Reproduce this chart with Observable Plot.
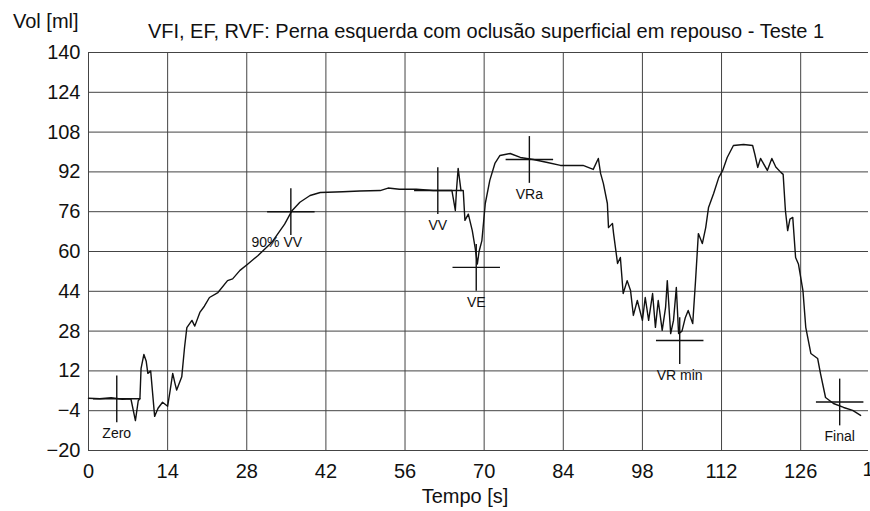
<!DOCTYPE html>
<html>
<head>
<meta charset="utf-8">
<script src="https://cdn.jsdelivr.net/npm/d3@7"></script>
<script src="https://cdn.jsdelivr.net/npm/@observablehq/plot@0.6"></script>
<style>
  html, body { margin: 0; padding: 0; background: #fff; }
  #chart { width: 870px; height: 511px; overflow: hidden; }
</style>
</head>
<body>
<div id="chart"></div>
<script>
// ---- data ----
const chartTitle = "VFI, EF, RVF: Perna esquerda com oclusão superficial em repouso - Teste 1";
const yLabel = "Vol [ml]";
const xLabel = "Tempo [s]";

const xTicks = [0, 14, 28, 42, 56, 70, 84, 98, 112, 126, 140];
const yTicks = [-20, -4, 12, 28, 44, 60, 76, 92, 108, 124, 140];

const times = [
  0, 2, 4, 6, 7.5, 8.3, 8.8, 9.1, 9.3, 9.8, 10.2, 10.5, 11, 11.7, 12.3, 13.1, 14, 14.4, 14.9, 15.3,
  15.6, 16.5, 17, 17.4, 18.3, 18.8, 19.7, 20.5, 21.4, 22.9, 24.6, 25.5, 26.8, 28.2, 30, 32.4, 34.7, 36, 37.4, 39.2,
  41, 45, 48, 51.6, 53, 55, 58, 61, 64.3, 64.9, 65.1, 65.4, 65.9, 66.3, 66.6, 67.2, 67.9, 68.4, 68.8, 69.1,
  69.6, 70.2, 71, 71.9, 72.8, 74.6, 76.4, 78.7, 81.2, 83.5, 87.5, 89.3, 90.2, 90.6, 91.1, 91.8, 92, 92.7, 92.9, 93.6,
  94.1, 94.6, 95.3, 95.9, 96.4, 97.1, 98, 98.5, 99.1, 99.8, 100.3, 100.8, 101.5, 102.1, 102.4, 103, 103.5, 104, 104.4, 105,
  105.6, 106.1, 106.9, 107.4, 107.9, 108.6, 109.2, 109.7, 110.6, 111.5, 112.2, 113, 114.1, 115.9, 117.5, 117.9, 118.4, 118.9, 120.1, 120.9,
  121.6, 122.5, 122.9, 123.3, 123.7, 124.1, 124.6, 125.1, 125.6, 126.4, 126.9, 127.8, 129, 129.5, 130.4, 131.8, 133.6, 135.2, 136.6
];
const volumes = [
  1, 0.8, 1.2, 0.6, 0.8, -8, 0, 1, 13, 18.6, 16, 11, 12, -6.3, -3, -0.6, -2.2, 3.5, 11, 7,
  4.3, 9.6, 21.6, 29.4, 32.3, 30, 35.5, 38, 41.5, 43.5, 48.3, 49, 52.4, 55, 58.4, 63.6, 71, 76.4, 79.8, 82.5,
  83.7, 84, 84.3, 84.5, 85.5, 85, 85, 84.5, 84.5, 76.5, 84.5, 93.4, 84.5, 84.5, 72.5, 75, 68.4, 61.6, 55, 60,
  64.4, 79.3, 88.6, 95.4, 98.6, 99.4, 97.8, 97, 95.8, 94.6, 94.6, 93, 97.4, 91.4, 87.3, 79.3, 69.6, 71.3, 67.2, 55.2,
  57.6, 43.1, 48.3, 44.3, 34.3, 40.3, 32.3, 41.5, 32.3, 43.1, 29.5, 40.3, 28.3, 37.5, 48.3, 27, 32.3, 45.5, 27, 28,
  33.5, 36.3, 31, 48.3, 67.2, 63.2, 69.6, 77.7, 83.3, 89.7, 92.6, 97.8, 102.6, 103, 102.6, 99, 93.8, 97.4, 92.6, 97.4,
  94, 91.8, 91, 76.5, 68.4, 73, 73.7, 57.6, 55, 44.3, 29.5, 19, 17, 11, 1.3, -1.1, -2.7, -3.9, -5.9
];

const markerNames = ["Zero", "90% VV", "VV", "VE", "VRa", "VR min", "Final"];
const markerTimes = [5, 35.8, 61.8, 68.6, 78, 104.6, 132.9];
const markerVolumes = [0.8, 76, 84.5, 53.6, 97, 24.2, -0.5];

// ---- tables built from the arrays ----
const trace = times.map((t, i) => ({t, v: volumes[i]}));
const markers = markerNames.map((name, i) => ({name, x: markerTimes[i], y: markerVolumes[i]}));
const halfW = 4.2, halfH = 9.4;

const font = "'Liberation Sans', Arial, Helvetica, sans-serif";
const xShown = xTicks.filter(d => d <= 138);

const plot = Plot.plot({
  width: 870,
  height: 511,
  marginLeft: 88,
  marginRight: 2,
  marginTop: 52,
  marginBottom: 61,
  style: {fontFamily: font, fontSize: "20px", background: "white", color: "#111"},
  x: {domain: [0, 138], ticks: xShown, tickSize: 0, tickPadding: 13, label: null},
  y: {domain: [-20, 140], ticks: yTicks, tickSize: 0, tickPadding: 8, label: null},
  marks: [
    Plot.ruleX(xShown, {stroke: "#444", strokeWidth: 1}),
    Plot.ruleY(yTicks, {stroke: "#444", strokeWidth: 1}),
    Plot.line(trace, {x: "t", y: "v", stroke: "#111", strokeWidth: 1.4}),
    Plot.link(markers, {x1: d => d.x - halfW, x2: d => d.x + halfW, y1: "y", y2: "y", stroke: "#111", strokeWidth: 1.4}),
    Plot.link(markers, {x1: "x", x2: "x", y1: d => d.y - halfH, y2: d => d.y + halfH, stroke: "#111", strokeWidth: 1.4}),
    Plot.text(markers.filter(d => d.name !== "90% VV"), {x: "x", y: "y", text: "name", dy: 35, fontSize: 14, fill: "#111"}),
    Plot.text(markers.filter(d => d.name === "90% VV"), {x: "x", y: "y", text: "name", dy: 31, dx: -14, fontSize: 14, fill: "#111"})
  ]
});

document.getElementById("chart").appendChild(plot);

const svg = d3.select(plot);
const xs = plot.scale("x");
// partially visible last tick label (cut by the right edge, as in the reference)
svg.append("text")
  .attr("x", xs.apply(140)).attr("y", 476)
  .attr("text-anchor", "middle").attr("font-size", 20).attr("fill", "#111")
  .text("140");
svg.append("text")
  .attr("x", 13).attr("y", 28)
  .attr("text-anchor", "start").attr("font-size", 20).attr("fill", "#111")
  .text(yLabel);
svg.append("text")
  .attr("x", 486).attr("y", 38)
  .attr("text-anchor", "middle").attr("font-size", 20).attr("fill", "#111")
  .text(chartTitle);
svg.append("text")
  .attr("x", 465).attr("y", 503)
  .attr("text-anchor", "middle").attr("font-size", 20).attr("fill", "#111")
  .text(xLabel);
</script>
</body>
</html>
